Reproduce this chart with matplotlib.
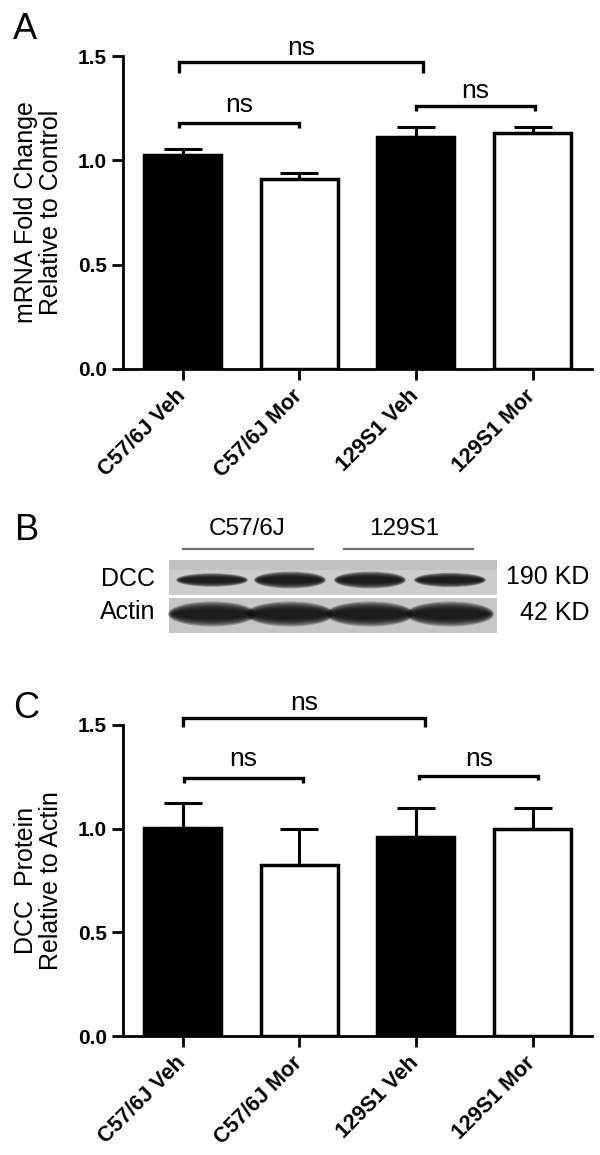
import matplotlib
matplotlib.use('Agg')
import matplotlib.pyplot as plt
from matplotlib.patches import Ellipse, Rectangle
import matplotlib.transforms as mtransforms
import numpy as np

plt.rcParams['font.family'] = ['Liberation Sans', 'DejaVu Sans']

# ---------------- data ----------------
categories = ['C57/6J Veh', 'C57/6J Mor', '129S1 Veh', '129S1 Mor']
mrna_mean = [1.027, 0.912, 1.111, 1.130]
mrna_sem = [0.026, 0.025, 0.047, 0.031]
protein_mean = [1.003, 0.827, 0.958, 1.000]
protein_sem = [0.123, 0.170, 0.142, 0.100]
bar_colors = ['black', 'white', 'black', 'white']
yticks = [0.0, 0.5, 1.0, 1.5]
ytick_labels = ['0.0', '0.5', '1.0', '1.5']
comparisons = [(0, 2), (0, 1), (2, 3)]
comparison_labels = ['ns', 'ns', 'ns']
blot_groups = ['C57/6J', '129S1']
blot_rows = ['DCC', 'Actin']
blot_sizes = ['190 KD', '42 KD']
dcc_band_strength = [0.8, 1.0, 1.0, 0.85]
actin_band_strength = [1.0, 1.0, 1.0, 1.0]

W, H = 600, 1155
fig = plt.figure(figsize=(W / 100, H / 100), dpi=100)


def px_axes(left, top, right, bottom):
    return fig.add_axes([left / W, 1 - bottom / H, (right - left) / W, (bottom - top) / H])


def draw_panel(ax, means, sems, ylabel, bracket_geom):
    x = np.arange(len(categories))
    ax.bar(x, means, width=0.66, color=bar_colors, edgecolor='black',
           linewidth=2.5, zorder=2)
    ax.errorbar(x, means, yerr=[np.zeros(len(sems)), sems], fmt='none',
                ecolor='black', elinewidth=2.2, capsize=13.5, capthick=2.2,
                zorder=3)
    ax.set_xlim(-0.51, 3.51)
    ax.set_ylim(0, 1.5)
    ax.set_yticks(yticks)
    ax.set_yticklabels(ytick_labels, fontsize=15, fontweight='bold')
    ax.set_xticks(x)
    ax.set_xticklabels(categories, rotation=45, ha='right', va='center',
                       rotation_mode='anchor', fontsize=15.5, fontweight='bold')
    off = mtransforms.ScaledTranslation(0.07, 0, fig.dpi_scale_trans)
    for lbl in ax.get_xticklabels():
        lbl.set_transform(lbl.get_transform() + off)
    ax.tick_params(axis='both', length=8, width=2, direction='out', colors='black')
    ax.tick_params(axis='x', pad=9)
    ax.tick_params(axis='y', pad=3.5)
    for s in ['top', 'right']:
        ax.spines[s].set_visible(False)
    for s in ['left', 'bottom']:
        ax.spines[s].set_linewidth(2)
    ax.set_ylabel(ylabel, fontsize=18, linespacing=1.05)
    ax.yaxis.set_label_coords(-0.128, 0.5)
    for (i, j), lab, (dx0, dx1, y, drop, ty) in zip(comparisons, comparison_labels, bracket_geom):
        x0, x1 = x[i] + dx0, x[j] + dx1
        ax.plot([x0, x0, x1, x1], [y - drop, y, y, y - drop], color='black',
                lw=2.4, clip_on=False, solid_joinstyle='miter', solid_capstyle='butt')
        ax.text((x0 + x1) / 2, ty, lab, ha='center', va='baseline', fontsize=19)


# Panel A
axA = px_axes(123, 56, 592, 369)
draw_panel(axA, mrna_mean, mrna_sem, 'mRNA Fold Change\nRelative to Control',
           [(-0.03, 0.06, 1.47, 0.05, 1.503),
            (-0.03, 0.0, 1.178, 0.025, 1.233),
            (0.0, 0.02, 1.259, 0.022, 1.297)])

# Panel C
axC = px_axes(123, 725, 592, 1036)
draw_panel(axC, protein_mean, protein_sem, 'DCC  Protein\nRelative to Actin',
           [(0.0, 0.08, 1.534, 0.045, 1.570),
            (0.01, 0.03, 1.246, 0.024, 1.30),
            (0.03, 0.05, 1.254, 0.018, 1.30)])

# Panel B (western blot drawn in pixel coordinates)
bx = fig.add_axes([0, 0, 1, 1], zorder=-1)
bx.set_xlim(0, W)
bx.set_ylim(H, 0)
bx.axis('off')
bx.patch.set_visible(False)

bx.add_patch(Rectangle((169, 560), 328, 35, facecolor='#cdcdcd', edgecolor='none'))
bx.add_patch(Rectangle((169, 560), 328, 10, facecolor='#bdbdbd', edgecolor='none', alpha=0.7))
bx.add_patch(Rectangle((169, 597.5), 328, 35, facecolor='#c6c6c6', edgecolor='none'))

lane_x = [212, 290, 370, 450]


def band(cx, cy, w, h, strength):
    for s in np.linspace(1.0, 0.35, 8):
        bx.add_patch(Ellipse((cx, cy), w * (0.82 + 0.18 * s), h * s * strength,
                             facecolor='#101010', edgecolor='none', alpha=0.28))


for cx, st in zip(lane_x, dcc_band_strength):
    band(cx, 580, 72, 17, st)
for cx, st in zip(lane_x, actin_band_strength):
    band(cx, 614, 88, 25, st)

bx.text(247, 535, blot_groups[0], ha='center', va='baseline', fontsize=17.5)
bx.text(404, 535, blot_groups[1], ha='center', va='baseline', fontsize=17.5)
bx.plot([183, 313], [549, 549], color='#707070', lw=1.6)
bx.plot([344, 473], [549, 549], color='#707070', lw=1.6)
bx.text(155, 579, blot_rows[0], ha='right', va='center', fontsize=18)
bx.text(155, 612, blot_rows[1], ha='right', va='center', fontsize=18)
bx.text(589, 577, blot_sizes[0], ha='right', va='center', fontsize=18)
bx.text(589, 613, blot_sizes[1], ha='right', va='center', fontsize=18)

# panel letters
fig.text(13 / W, 1 - 39 / H, 'A', fontsize=26, va='baseline', ha='left')
fig.text(15 / W, 1 - 540 / H, 'B', fontsize=26, va='baseline', ha='left')
fig.text(13 / W, 1 - 718 / H, 'C', fontsize=26, va='baseline', ha='left')

fig.savefig('out.png', dpi=100, facecolor='white')
